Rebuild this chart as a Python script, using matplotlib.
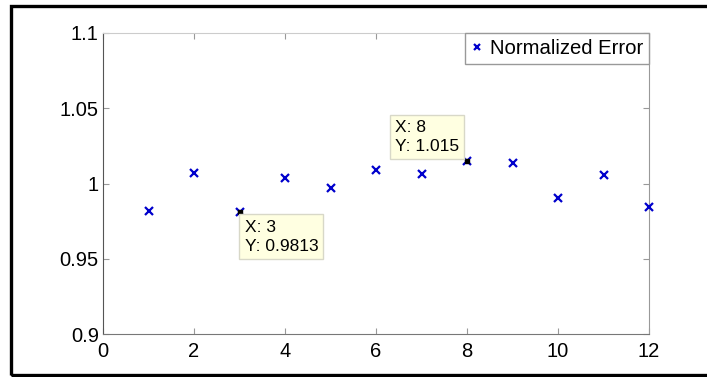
#!/usr/bin/env python
# -*- coding: utf-8 -*-
"""
plot.py - normalized error per sample, MATLAB style figure with datatips
"""
import matplotlib
matplotlib.use('Agg')
import matplotlib.pyplot as plt
from matplotlib.patches import Rectangle

# ~~~ data ~~~~~~~~~~~~~~~~~~~~~~~~~~~~~~~~~~~~~~~~~~~~~~~~~~~~~~~~~~~~~~~~~~ #
sampleIdx = [1, 2, 3, 4, 5, 6, 7, 8, 9, 10, 11, 12]
normError = [0.982, 1.0068, 0.9813, 1.0039, 0.9972, 1.009,
             1.0061, 1.015, 1.0138, 0.9906, 1.0057, 0.9846]
xTicks = [0, 2, 4, 6, 8, 10, 12]
yTicks = [0.9, 0.95, 1.0, 1.05, 1.1]
yTickLabels = ['0.9', '0.95', '1', '1.05', '1.1']
tipIdx = [2, 7]          # indices of points carrying a datatip
tipLabels = ['X: 3\nY: 0.9813', 'X: 8\nY: 1.015']

plt.rcParams['font.family'] = ['Liberation Sans', 'DejaVu Sans']

fig = plt.figure(figsize=(7.07, 3.77), dpi=100)
ax = fig.add_axes([0.1457, 0.114, 0.918 - 0.1457, 0.9125 - 0.114])

ax.plot(sampleIdx, normError, linestyle='none', marker='x', color='#0000cc',
        markersize=5.5, markeredgewidth=1.6, label='Normalized Error',
        clip_on=False, zorder=3)

# datatip markers
for i in tipIdx:
    ax.plot(sampleIdx[i], normError[i], linestyle='none', marker='s',
            color='black', markersize=2.2, zorder=4)

tipBox = dict(boxstyle='square,pad=0.3', facecolor='#ffffe1',
              edgecolor='#d8d8c8', linewidth=1)
ax.annotate(tipLabels[0], (sampleIdx[tipIdx[0]], normError[tipIdx[0]]),
            xytext=(5, -8), textcoords='offset pixels', ha='left', va='top',
            multialignment='left', fontsize=12.5, bbox=tipBox,
            linespacing=1.35, zorder=5)
ax.annotate(tipLabels[1], (sampleIdx[tipIdx[1]], normError[tipIdx[1]]),
            xytext=(-8, 7), textcoords='offset pixels', ha='right',
            va='bottom', multialignment='left', fontsize=12.5, bbox=tipBox,
            linespacing=1.35, zorder=5)

ax.set_xlim(0, 12)
ax.set_ylim(0.9, 1.1)
ax.set_xticks(xTicks)
ax.set_yticks(yTicks)
ax.set_yticklabels(yTickLabels)
ax.tick_params(direction='in', length=4, width=0.8, color='#999999',
               labelsize=14.5, top=True, right=True)
ax.tick_params(axis='x', pad=6)
ax.tick_params(axis='y', pad=3)

ax.spines['left'].set_color('#555555')
ax.spines['bottom'].set_color('#777777')
ax.spines['top'].set_color('#cccccc')
ax.spines['right'].set_color('#999999')

leg = ax.legend(loc='upper right', borderaxespad=0, fontsize=14.6,
                fancybox=False, framealpha=1, edgecolor='#999999',
                handlelength=0.5, handletextpad=0.4, borderpad=0.3,
                markerscale=0.8)
leg.get_frame().set_linewidth(1)

# thick black frame around the figure
fig.add_artist(Rectangle((10.5 / 707, 2.5 / 377), 1.1, (377 - 8) / 377,
                         transform=fig.transFigure, fill=False,
                         edgecolor='black', linewidth=2.4, clip_on=False))

fig.savefig('out.png', dpi=100)
